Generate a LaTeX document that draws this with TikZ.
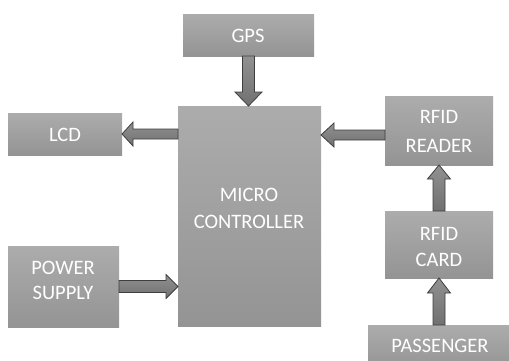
\documentclass[tikz,border=0pt]{standalone}
\usepackage{fontspec}
\setmainfont{Carlito}
\usetikzlibrary{calc}
\definecolor{boxtop}{RGB}{172,172,172}
\definecolor{boxbot}{RGB}{148,148,148}
\definecolor{arrtop}{RGB}{145,145,145}
\definecolor{arrbot}{RGB}{112,112,112}
\definecolor{arrline}{RGB}{62,62,62}
\tikzset{
  blk/.style={draw=none, top color=boxtop, bottom color=boxbot, inner sep=0pt, outer sep=0pt},
  lbl/.style={text=white, font=\fontsize{20.5pt}{27pt}\selectfont, align=center, anchor=base, inner sep=0pt},
  blockarr/.style={draw=arrline, line width=0.8pt, top color=arrtop, bottom color=arrbot, line join=miter}
}
\newcommand\barrow[5]{%
  \coordinate (hb) at ($(#2)!#5pt!(#1)$);
  \draw[blockarr] ($(#1)!#3pt!90:(#2)$) -- ($(hb)!#3pt!90:(#2)$) -- ($(hb)!#4pt!90:(#2)$) -- (#2)
    -- ($(hb)!#4pt!-90:(#2)$) -- ($(hb)!#3pt!-90:(#2)$) -- ($(#1)!#3pt!-90:(#2)$) -- cycle;}
\begin{document}
\begin{tikzpicture}[x=1pt,y=-1pt]
\useasboundingbox (0,0) rectangle (509,360);
% boxes
\node[blk, minimum width=131pt, minimum height=42pt] (gps) at (248.5,35) {};
\node[blk, minimum width=143pt, minimum height=220pt] (micro) at (249.5,216) {};
\node[blk, minimum width=114pt, minimum height=42pt] (lcd) at (65,134) {};
\node[blk, minimum width=108pt, minimum height=69pt] (reader) at (439,130.5) {};
\node[blk, minimum width=108pt, minimum height=67pt] (card) at (439,244.5) {};
\node[blk, minimum width=111pt, minimum height=81pt] (power) at (63.5,286.5) {};
\node[blk, minimum width=152pt, minimum height=45pt] (pass) at (444,347.5) {};
% labels
\node[lbl] (gpst) at (248,42) {GPS};
\node[lbl] (lcdt) at (65,141) {LCD};
\node[lbl] (microt) at (249,228) {MICRO\\CONTROLLER};
\node[lbl, font=\fontsize{20.5pt}{29pt}\selectfont] (readert) at (439,152) {RFID\\READER};
\node[lbl, font=\fontsize{20.5pt}{26pt}\selectfont] (cardt) at (439,266) {RFID\\CARD};
\node[lbl, font=\fontsize{20.5pt}{25.5pt}\selectfont] (powert) at (63,299.5) {POWER\\SUPPLY};
\node[lbl] (passt) at (440,352) {PASSENGER};
% arrows
\coordinate (g2) at (gps.south |- micro.north);
\barrow{gps.south}{g2}{6}{13.5}{14}
\coordinate (l1) at (micro.west |- lcd.east);
\barrow{l1}{lcd.east}{5}{12}{11}
\coordinate (r1) at ($(reader.west)+(0,4.5)$);
\coordinate (r2) at (micro.east |- r1);
\barrow{r1}{r2}{5}{12}{13}
\coordinate (p2) at (micro.west |- power.east);
\barrow{power.east}{p2}{6}{12}{12}
\barrow{card.north}{reader.south}{6}{11.5}{14}
\coordinate (s1) at (card.south |- pass.north);
\barrow{s1}{card.south}{6}{11.5}{15}
\end{tikzpicture}
\end{document}
